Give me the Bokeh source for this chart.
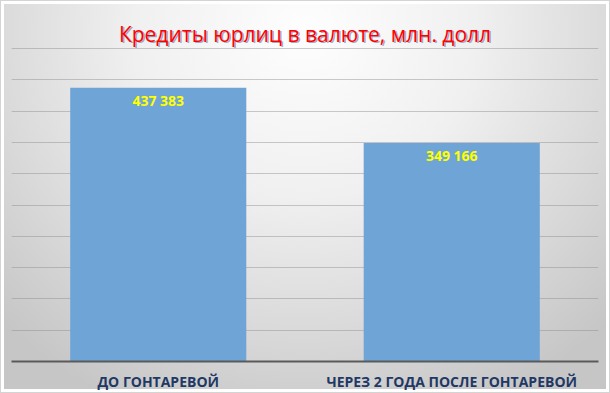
from bokeh.plotting import figure
from bokeh.models import ColumnDataSource, FactorRange, Range1d, LabelSet, Label, SingleIntervalTicker
from bokeh.core.properties import value
from bokeh.embed import file_html
from bokeh.resources import INLINE

categories = ["ДО ГОНТАРЕВОЙ", "ЧЕРЕЗ 2 ГОДА ПОСЛЕ ГОНТАРЕВОЙ"]
values = [437383, 349166]
value_labels = ["437 383", "349 166"]
title_text = "Кредиты юрлиц в валюте, млн. долл"
axis_max = 500000

src = ColumnDataSource(dict(cat=categories, val=values, lab=value_labels))

# frame reaches the top edge so the title (a Label) is drawn inside it;
# 0..axis_max occupies the lower 313 of the 361 frame pixels
p = figure(width=610, height=393, x_range=FactorRange(*categories, range_padding=0),
           y_range=Range1d(0, axis_max * 361 / 313), output_backend="svg", toolbar_location=None,
           min_border_left=11, min_border_right=12, min_border_top=0, min_border_bottom=32)
p.styles = {
    "background-image": "radial-gradient(ellipse 70% 105% at 50% 8%, #fefefe 0%, #f0f0f0 40%, #dadada 72%, #c6c6c6 100%)",
    "box-shadow": "inset 0 0 0 1px #d4d4d4, inset 0 0 0 4px #ffffff",
}
p.background_fill_alpha = 0
p.border_fill_alpha = 0
p.outline_line_color = None

p.vbar(x="cat", top="val", width=0.6, source=src, fill_color="#6FA4D7", line_color=None)

labels = LabelSet(x="cat", y="val", text="lab", source=src, text_align="center",
                  text_baseline="middle", y_offset=-13, text_color="#FFFF00",
                  text_font=value("Open Sans"), text_font_style="bold", text_font_size="14px")
p.add_layout(labels)

p.yaxis.visible = False
p.yaxis.ticker = SingleIntervalTicker(interval=50000)
p.ygrid.ticker = SingleIntervalTicker(interval=50000)
p.ygrid.bounds = (0, axis_max)
p.ygrid.grid_line_color = "#8c8c8c"
p.ygrid.grid_line_alpha = 0.45
p.xgrid.grid_line_color = None

p.xaxis.axis_line_color = "#5a5a5a"
p.xaxis.axis_line_width = 2
p.xaxis.major_tick_line_color = None
p.xaxis.minor_tick_line_color = None
p.xaxis.major_label_standoff = 4
p.xaxis.major_label_text_font = "Open Sans"
p.xaxis.major_label_text_font_style = "bold"
p.xaxis.major_label_text_font_size = "14px"
p.xaxis.major_label_text_color = "#1F3864"

shadow = Label(x=1.0, y=axis_max, x_offset=1.5, y_offset=13.5, text=title_text,
               text_align="center", text_baseline="alphabetic", text_color="#7F93B5",
               text_alpha=0.75, text_font="Open Sans", text_font_size="21px")
title = Label(x=1.0, y=axis_max, y_offset=15, text=title_text,
              text_align="center", text_baseline="alphabetic", text_color="#FF0000",
              text_font="Open Sans", text_font_size="21px")
p.add_layout(shadow)
p.add_layout(title)

open("out.html", "w").write(file_html(p, INLINE))
